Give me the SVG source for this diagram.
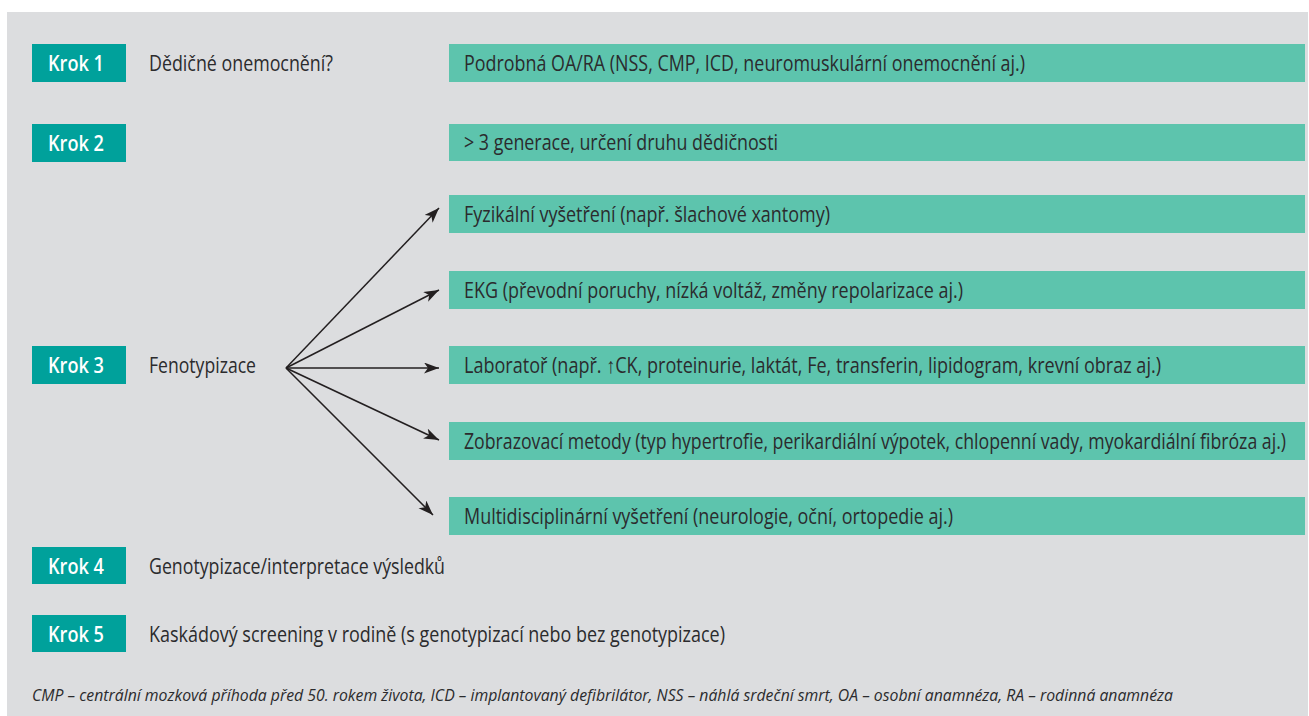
<svg xmlns="http://www.w3.org/2000/svg" width="1309" height="716" viewBox="0 0 1309 716">
  <style>
    .krok { fill: #00a19b; }
    .krokt { font-family: "Open Sans", "Liberation Sans", sans-serif; font-weight: 600; font-size: 21px; fill: #ffffff; }
    .box { fill: #5dc4ad; }
    .t { font-family: "Open Sans", "Liberation Sans", sans-serif; font-size: 21.5px; fill: #2b2b2d; }
    .note { font-family: "Open Sans", "Liberation Sans", sans-serif; font-style: italic; font-size: 16.5px; fill: #2b2b2d; }
    .conn { stroke: #231f20; stroke-width: 1.5; fill: none; marker-end: url(#arrow); }
  </style>
  <defs>
    <marker id="arrow" markerUnits="userSpaceOnUse" markerWidth="16" markerHeight="12" refX="15" refY="5.5" orient="auto" viewBox="0 0 16 12">
      <path d="M0,0 L15,5.5 L0,11 L4,5.5 Z" fill="#231f20"/>
    </marker>
  </defs>
  <rect x="0" y="0" width="1309" height="716" fill="#ffffff"/>
  <rect x="7" y="12" width="1301" height="704" fill="#dcdddf"/>

  <g id="step1">
    <rect class="krok" x="32" y="44" width="94" height="38"/>
    <text class="krokt" x="48" y="71" textLength="56" lengthAdjust="spacingAndGlyphs">Krok 1</text>
    <text class="t" x="149" y="71" textLength="184" lengthAdjust="spacingAndGlyphs">Dědičné onemocnění?</text>
  </g>
  <g id="box1">
    <rect class="box" x="449" y="44" width="856" height="38"/>
    <text class="t" x="464" y="71" textLength="561" lengthAdjust="spacingAndGlyphs">Podrobná OA/RA (NSS, CMP, ICD, neuromuskulární onemocnění aj.)</text>
  </g>

  <g id="step2">
    <rect class="krok" x="32" y="124" width="94" height="38"/>
    <text class="krokt" x="48" y="151" textLength="56" lengthAdjust="spacingAndGlyphs">Krok 2</text>
  </g>
  <g id="box2">
    <rect class="box" x="449" y="124" width="856" height="37"/>
    <text class="t" x="464" y="150" textLength="314" lengthAdjust="spacingAndGlyphs">&gt; 3 generace, určení druhu dědičnosti</text>
  </g>

  <g id="step3">
    <rect class="krok" x="32" y="346" width="94" height="38"/>
    <text class="krokt" x="48" y="373" textLength="56" lengthAdjust="spacingAndGlyphs">Krok 3</text>
    <text class="t" x="149" y="373" textLength="107" lengthAdjust="spacingAndGlyphs">Fenotypizace</text>
  </g>

  <g id="box3">
    <rect class="box" x="449" y="195" width="856" height="38"/>
    <text class="t" x="464" y="222" textLength="366" lengthAdjust="spacingAndGlyphs">Fyzikální vyšetření (např. šlachové xantomy)</text>
  </g>
  <g id="box4">
    <rect class="box" x="449" y="271" width="856" height="38"/>
    <text class="t" x="464" y="298" textLength="499" lengthAdjust="spacingAndGlyphs">EKG (převodní poruchy, nízká voltáž, změny repolarizace aj.)</text>
  </g>
  <g id="box5">
    <rect class="box" x="449" y="346" width="856" height="38"/>
    <text class="t" x="464" y="373" textLength="697" lengthAdjust="spacingAndGlyphs">Laboratoř (např. ↑CK, proteinurie, laktát, Fe, transferin, lipidogram, krevní obraz aj.)</text>
  </g>
  <g id="box6">
    <rect class="box" x="449" y="422" width="856" height="38"/>
    <text class="t" x="464" y="449" textLength="822" lengthAdjust="spacingAndGlyphs">Zobrazovací metody (typ hypertrofie, perikardiální výpotek, chlopenní vady, myokardiální fibróza aj.)</text>
  </g>
  <g id="box7">
    <rect class="box" x="449" y="497" width="856" height="38"/>
    <text class="t" x="464" y="524" textLength="489" lengthAdjust="spacingAndGlyphs">Multidisciplinární vyšetření (neurologie, oční, ortopedie aj.)</text>
  </g>

  <g id="step4">
    <rect class="krok" x="32" y="547" width="94" height="37"/>
    <text class="krokt" x="48" y="574" textLength="56" lengthAdjust="spacingAndGlyphs">Krok 4</text>
    <text class="t" x="149" y="574" textLength="296" lengthAdjust="spacingAndGlyphs">Genotypizace/interpretace výsledků</text>
  </g>

  <g id="step5">
    <rect class="krok" x="32" y="615" width="94" height="37"/>
    <text class="krokt" x="48" y="642" textLength="56" lengthAdjust="spacingAndGlyphs">Krok 5</text>
    <text class="t" x="149" y="642" textLength="576" lengthAdjust="spacingAndGlyphs">Kaskádový screening v rodině (s genotypizací nebo bez genotypizace)</text>
  </g>

  <g id="connectors">
    <line class="conn" x1="286" y1="368" x2="439" y2="208"/>
    <line class="conn" x1="286" y1="368" x2="439" y2="290"/>
    <line class="conn" x1="286" y1="368" x2="439" y2="368"/>
    <line class="conn" x1="286" y1="368" x2="439" y2="440"/>
    <line class="conn" x1="286" y1="368" x2="433" y2="515"/>
  </g>

  <g id="footnote">
    <text class="note" x="32" y="701" textLength="1141" lengthAdjust="spacingAndGlyphs">CMP – centrální mozková příhoda před 50. rokem života, ICD – implantovaný defibrilátor, NSS – náhlá srdeční smrt, OA – osobní anamnéza, RA – rodinná anamnéza</text>
  </g>
</svg>
